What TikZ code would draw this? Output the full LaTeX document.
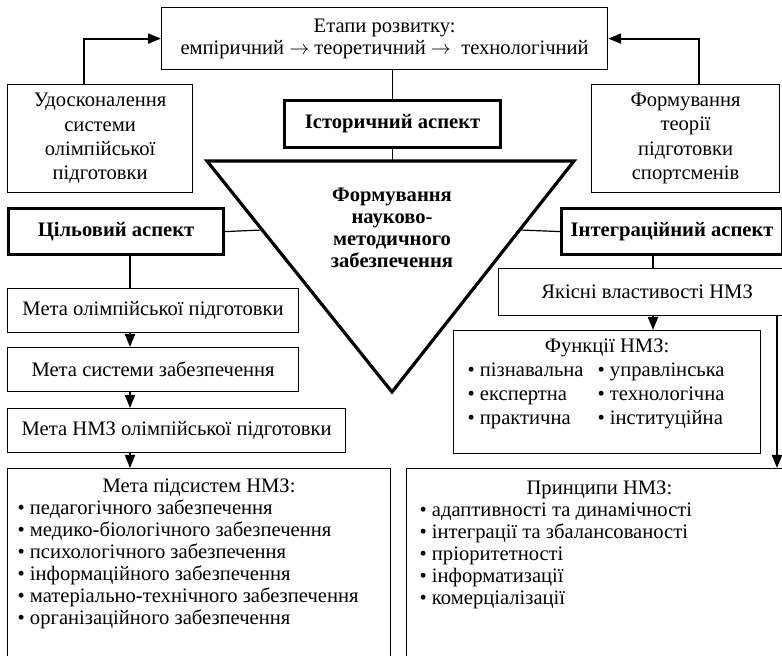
\documentclass[tikz,border=0pt]{standalone}
\usepackage{fontspec}
\setmainfont{Liberation Serif}
\usetikzlibrary{arrows.meta}

\tikzset{
  box/.style={draw, line width=0.6pt, anchor=north west, align=center, inner sep=0pt,
    font=\fontsize{10.3pt}{12.2pt}\selectfont},
  aspect/.style={box, line width=1.6pt, font=\fontsize{10.3pt}{12.2pt}\selectfont\bfseries},
  tight/.style={font=\fontsize{10.3pt}{11pt}\selectfont},
  link/.style={line width=0.6pt},
  arr/.style={line width=1pt, -{Triangle[length=6.5pt,width=5pt]}},
}

\begin{document}
\begin{tikzpicture}[x=0.5pt, y=-0.5pt]
  \useasboundingbox (0,0) rectangle (782,656);
  \clip (0,0) rectangle (782,656);

  % historical aspect
  \node[box, tight, minimum width=223pt, minimum height=31pt] (etapy) at (161,7)
    {Етапи розвитку:\\ емпіричний $\rightarrow$ теоретичний $\rightarrow$\ \ технологічний};
  \node[box, minimum width=92.5pt, minimum height=54pt] (udosk) at (7,84)
    {Удосконалення\\ системи\\ олімпійської\\ підготовки};
  \node[box, minimum width=94pt, minimum height=54pt] (teoria) at (591,84)
    {Формування\\ теорії\\ підготовки\\ спортсменів};
  \node[aspect, minimum width=108pt, minimum height=23.5pt] (istor) at (283,99) {Історичний аспект};

  % the triangle
  \coordinate (triA) at (207,161);
  \coordinate (triB) at (574,161);
  \coordinate (triC) at (392,392);
  \coordinate (triW) at (262,230);
  \coordinate (triE) at (520,230);
  \draw[line width=1.6pt] (triA) -- (triB) -- (triC) -- cycle;
  \node[align=center, font=\fontsize{10.3pt}{10.9pt}\selectfont\bfseries] (nmz) at (392,228)
    {Формування\\ науково-\\ методичного\\ забезпечення};

  \node[aspect, minimum width=107.5pt, minimum height=23pt] (tsil) at (7,207) {Цільовий аспект};
  \node[aspect, minimum width=110.5pt, minimum height=23pt] (integ) at (560,207) {Інтеграційний аспект};

  % target aspect
  \coordinate (lcol) at (130,0);
  \node[box, minimum width=145.5pt, minimum height=22pt] (meta1) at (7,288) {Мета олімпійської підготовки};
  \node[box, minimum width=145.5pt, minimum height=22pt] (meta2) at (7,347) {Мета системи забезпечення};
  \node[box, minimum width=169pt, minimum height=22pt] (meta3) at (7,408) {Мета НМЗ олімпійської підготовки};
  \node[box, tight, inner xsep=5pt, inner ysep=5.3pt] (pidsys) at (7,468)
    {\parbox[c][89pt][t]{181.5pt}{\centering Мета підсистем НМЗ:\par\raggedright
      • педагогічного забезпечення\\
      • медико-біологічного забезпечення\\
      • психологічного забезпечення\\
      • інформаційного забезпечення\\
      • матеріально-технічного забезпечення\\
      • організаційного забезпечення}};

  % integration aspect
  \coordinate (rcol) at (653,0);
  \coordinate (rlong) at (777,0);
  \node[box, minimum width=148.5pt, minimum height=23.5pt] (yakis) at (498,268) {Якісні властивості НМЗ};
  \node[box, inner xsep=7pt, inner ysep=4pt] (funk) at (453,330)
    {\parbox[c][53.5pt][t]{139.5pt}{\fontsize{10.3pt}{12pt}\selectfont\centering Функції НМЗ:\par\raggedright
      \begin{tabular}[t]{@{}l@{\hspace{7pt}}l@{}}
        • пізнавальна & • управлінська\\
        • експертна & • технологічна\\
        • практична & • інституційна
      \end{tabular}}};
  \node[box, tight, inner xsep=6.5pt, inner ysep=6.2pt] (pryn) at (406,468)
    {\parbox[c][87.6pt][t]{184pt}{\raggedright\hspace*{53.5pt}Принципи НМЗ:\\
      • адаптивності та динамічності\\
      • інтеграції та збалансованості\\
      • пріоритетності\\
      • інформатизації\\
      • комерціалізації}};

  % connectors
  \draw[link] (istor.north) -- (istor.north |- etapy.south);
  \draw[link] (istor.south) -- (istor.south |- triA);
  \draw[arr] ([xshift=-8.25pt]udosk.north) |- (etapy.west);
  \draw[arr] ([xshift=6.5pt]teoria.north) |- (etapy.east);
  \draw[link] (tsil.east) -- (triW);
  \draw[link] (integ.west) -- (triE);
  \draw[link] (tsil.south -| lcol) -- (meta1.north -| lcol);
  \draw[arr] (meta1.south -| lcol) -- (meta2.north -| lcol);
  \draw[arr] (meta2.south -| lcol) -- (meta3.north -| lcol);
  \draw[arr] (meta3.south -| lcol) -- (pidsys.north -| lcol);
  \draw[link] (integ.south -| rcol) -- (yakis.north -| rcol);
  \draw[arr] (yakis.south -| rcol) -- (funk.north -| rcol);
  \draw[arr] (yakis.south -| rlong) -- (pryn.north -| rlong);
\end{tikzpicture}
\end{document}
